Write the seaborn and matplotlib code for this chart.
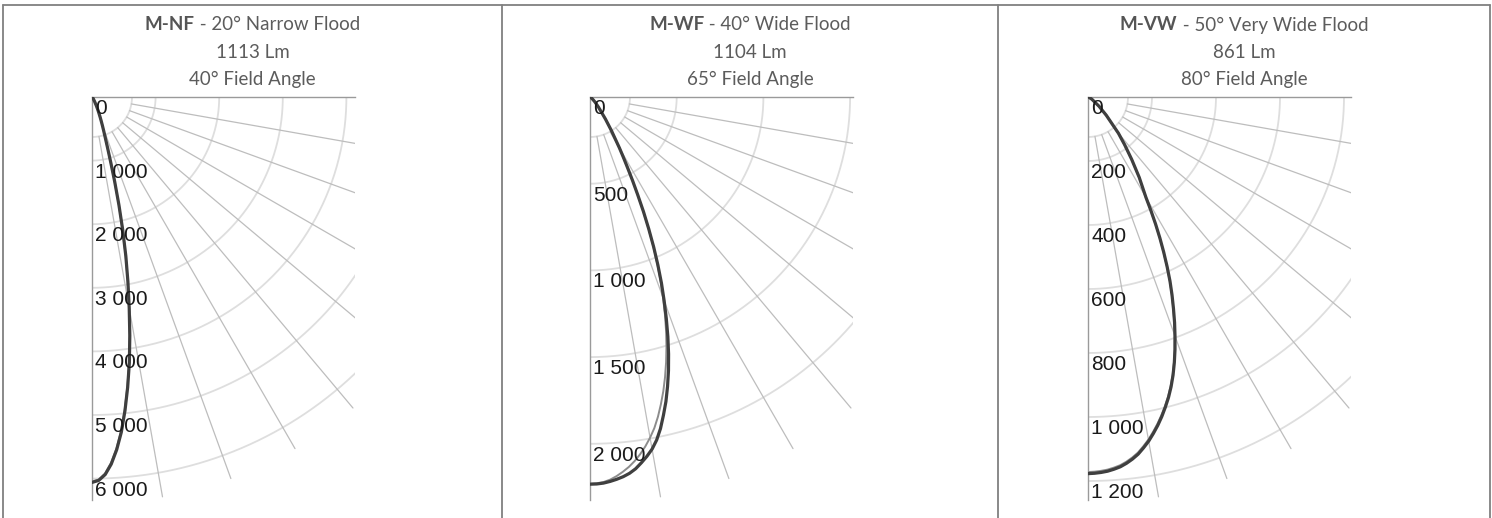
import numpy as np
import pandas as pd
import seaborn as sns
import matplotlib.pyplot as plt
from matplotlib.lines import Line2D
from matplotlib.transforms import offset_copy

sns.set_style("white")
plt.rcParams['font.family'] = ['Lato', 'DejaVu Sans']

# polar intensity data (cd), angle from nadir in degrees
nf_angles = [0, 1, 2, 3, 4, 5, 6, 7, 8, 9, 10, 11, 12, 13, 14, 15, 16, 17, 18, 19, 20,
             21, 22, 23, 24, 25, 26, 27, 28, 29, 30, 35, 40, 50, 60, 90]
nf_c0 = [6060, 6030, 5940, 5780, 5560, 5290, 4960, 4600, 4220, 3800, 3370, 2960, 2560, 2150,
         1750, 1380, 1070, 840, 680, 570, 480, 405, 340, 285, 240, 200, 165, 135, 112, 95, 80,
         40, 20, 6, 0, 0]
nf_c90 = [6045, 6015, 5920, 5755, 5535, 5265, 4935, 4575, 4195, 3780, 3350, 2945, 2545, 2140,
          1740, 1372, 1064, 836, 676, 567, 478, 403, 338, 284, 239, 199, 164, 134, 111, 94, 79,
          40, 20, 6, 0, 0]

wf_angles = [0, 1, 2, 3, 4, 5, 6, 7, 8, 9, 10, 11, 12, 13, 14, 15, 16, 17, 18, 19, 20,
             21, 22, 23, 24, 25, 26, 27, 28, 29, 30, 32.5, 35, 40, 45, 50, 60, 90]
wf_c0 = [2233, 2232, 2228, 2220, 2210, 2198, 2182, 2160, 2130, 2098, 2062, 2015, 1955, 1883,
         1810, 1728, 1642, 1550, 1453, 1352, 1250, 1150, 1045, 940, 833, 730, 628, 540, 460,
         395, 340, 230, 155, 75, 40, 20, 6, 0]
wf_c90 = [2230, 2228, 2222, 2210, 2192, 2170, 2145, 2115, 2080, 2040, 1995, 1945, 1885, 1818,
          1748, 1672, 1592, 1508, 1420, 1328, 1232, 1137, 1036, 935, 830, 728, 627, 540, 460,
          395, 340, 230, 155, 75, 40, 20, 6, 0]

vw_angles = [0, 1, 2, 3, 4, 5, 6, 7, 8, 9, 10, 11, 12, 13, 14, 15, 16, 17, 18, 19, 20,
             21, 22, 23, 24, 25, 26, 27, 28, 29, 30, 32.5, 35, 37.5, 40, 45, 50, 60, 70, 90]
vw_c0 = [1177, 1176, 1174, 1171, 1166, 1160, 1151, 1140, 1127, 1110, 1092, 1071, 1049, 1025,
         999, 972, 942, 909, 873, 835, 795, 755, 713, 672, 630, 585, 540, 495, 450, 405, 362,
         298, 238, 188, 148, 81, 45, 14, 4, 0]
vw_c90 = [1172, 1171, 1169, 1166, 1161, 1155, 1146, 1135, 1122, 1105, 1087, 1066, 1044, 1020,
          995, 968, 938, 906, 870, 832, 792, 752, 711, 670, 628, 583, 538, 493, 448, 404, 361,
          297, 237, 187, 147, 81, 45, 14, 4, 0]

codes = ['M-NF', 'M-WF', 'M-VW']
names = ['20° Narrow Flood', '40° Wide Flood', '50° Very Wide Flood']
lumens = [1113, 1104, 861]
field_angles = [40, 65, 80]
ticks = [[0, 1000, 2000, 3000, 4000, 5000, 6000],
         [0, 500, 1000, 1500, 2000],
         [0, 200, 400, 600, 800, 1000, 1200]]

panels = [(nf_angles, nf_c0, nf_c90), (wf_angles, wf_c0, wf_c90), (vw_angles, vw_c0, vw_c90)]

W, H = 1492, 518
fig = plt.figure(figsize=(W / 100, H / 100), dpi=100)

ax_left = [92, 590, 1088]
ax_top, ax_bottom, ax_w = 97, 500, 263
step_px = [63.6, 86.7, 64.0]   # pixel spacing of one tick step
r_in_px, r_out_px = 40, 406


def to_xy(ang, val):
    a = np.radians(np.asarray(ang, dtype=float))
    v = np.asarray(val, dtype=float)
    return v * np.sin(a), -v * np.cos(a)


for i, (ang, c0, c90) in enumerate(panels):
    ax = fig.add_axes([ax_left[i] / W, (H - ax_bottom) / H, ax_w / W, (ax_bottom - ax_top) / H])
    tk = ticks[i]
    ppu = step_px[i] / (tk[1] - tk[0])
    ax.set_xlim(0, ax_w / ppu)
    ax.set_ylim(-(ax_bottom - ax_top) / ppu, 0)
    ax.set_xticks([])
    ax.set_yticks([])
    sns.despine(ax=ax, top=False, left=False, right=True, bottom=True)
    for s in ['left', 'top']:
        ax.spines[s].set_color('#9a9a9a')
        ax.spines[s].set_linewidth(1.0)

    # grid circles
    th = np.linspace(0, 90, 200)
    for r in [r_in_px / ppu] + tk[1:]:
        gx, gy = to_xy(th, np.full_like(th, r))
        ax.plot(gx, gy, color='#dedede', lw=1.3, zorder=1)
    # spokes
    for a in range(10, 90, 10):
        sx, sy = to_xy([a, a], [r_in_px / ppu, r_out_px / ppu])
        ax.plot(sx, sy, color='#bdbdbd', lw=0.9, zorder=1)

    # curves
    x0, y0 = to_xy(ang, c0)
    x1, y1 = to_xy(ang, c90)
    df = pd.DataFrame({'x': np.r_[x0, x1], 'y': np.r_[y0, y1],
                       'plane': ['C0-C180'] * len(x0) + ['C90-C270'] * len(x1)})
    sns.lineplot(data=df[df.plane == 'C90-C270'], x='x', y='y', sort=False, estimator=None,
                 color='#8c8c8c', lw=1.4, ax=ax, zorder=3)
    sns.lineplot(data=df[df.plane == 'C0-C180'], x='x', y='y', sort=False, estimator=None,
                 color='#3f3f3f', lw=2.3, ax=ax, zorder=4,
                 solid_joinstyle='round', solid_capstyle='round')
    ax.set_xlabel('')
    ax.set_ylabel('')

    # radial labels
    trans = offset_copy(ax.transData, fig=fig, x=3, y=-2, units='dots')
    for t in tk:
        ax.text(0, -t, f"{t:,}".replace(',', ' '), transform=trans, ha='left', va='top',
                fontsize=15, color='#1a1a1a', family=['Liberation Sans', 'DejaVu Sans'],
                clip_on=False, zorder=5)

# table borders
bc = '#808080'
edges = [3, 502, 998, 1490]
fig.add_artist(Line2D([edges[0] / W, edges[-1] / W], [1 - 4.5 / H, 1 - 4.5 / H],
                      transform=fig.transFigure, color=bc, lw=1.3))
for e in edges:
    fig.add_artist(Line2D([e / W, e / W], [0, 1 - 4.5 / H], transform=fig.transFigure, color=bc, lw=1.3))

# titles
tc = '#5c5c5c'
fs = 13.5
fig.canvas.draw()
rend = fig.canvas.get_renderer()
for i in range(3):
    cx = (edges[i] + edges[i + 1]) / 2
    yy = 1 - 25 / H
    t1 = fig.text(0, yy, codes[i], weight='bold', color='#555555', fontsize=fs, ha='left', va='center')
    t2 = fig.text(0, yy, ' - ' + names[i], color=tc, fontsize=fs, ha='left', va='center')
    w1 = t1.get_window_extent(rend).width
    w2 = t2.get_window_extent(rend).width
    start = cx - (w1 + w2) / 2
    t1.set_x(start / W)
    t2.set_x((start + w1) / W)
    fig.text(cx / W, 1 - 52 / H, f"{lumens[i]} Lm", color=tc, fontsize=fs, ha='center', va='center')
    fig.text(cx / W, 1 - 79 / H, f"{field_angles[i]}° Field Angle", color=tc, fontsize=fs,
             ha='center', va='center')

fig.savefig('out.png', dpi=100)
